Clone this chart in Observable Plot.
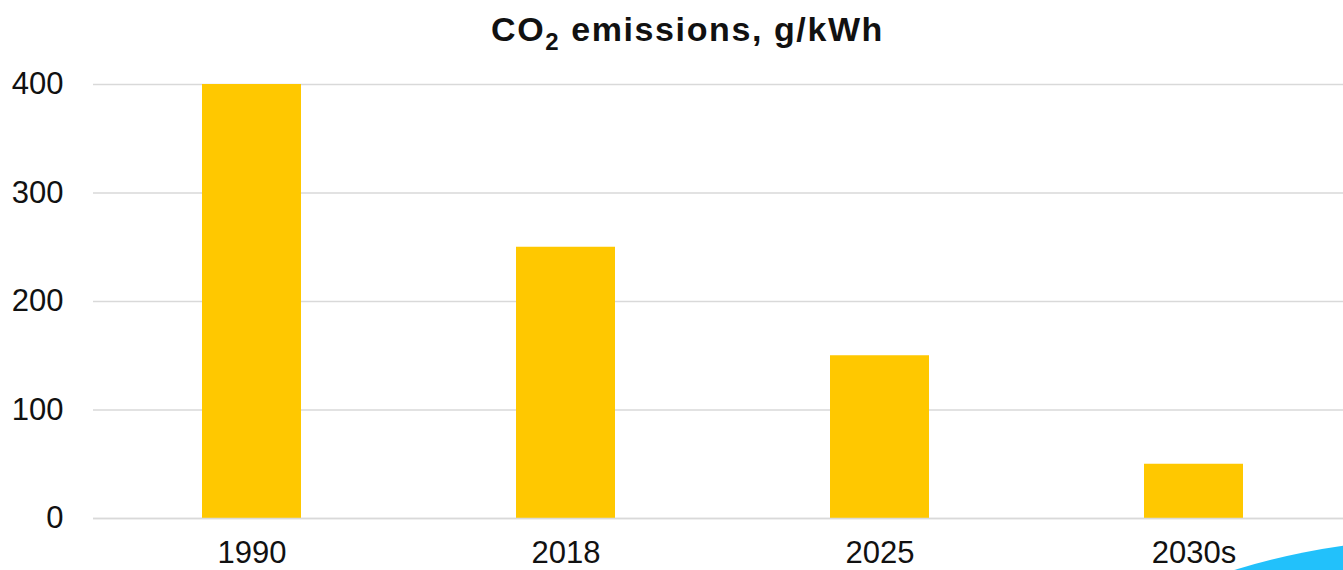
<!DOCTYPE html>
<html>
<head>
<meta charset="utf-8">
<script src="https://cdn.jsdelivr.net/npm/d3@7"></script>
<script src="https://cdn.jsdelivr.net/npm/@observablehq/plot@0.6"></script>
<style>
  html, body { margin: 0; padding: 0; background: #fff; }
  body { width: 1343px; height: 570px; overflow: hidden; position: relative; font-family: "Liberation Sans", Arial, sans-serif; }
  #title { box-sizing: border-box; width: 1343px; height: 58px; padding-top: 10px; padding-left: 32px; line-height: 38px; text-align: center; font-weight: bold; font-size: 34px; letter-spacing: 1.6px; color: #111; white-space: nowrap; }
  #title .sub { font-size: 24px; vertical-align: -9px; line-height: 0; }
  #deco { position: absolute; left: 740px; top: 539px; width: 1400px; height: 1400px; border-radius: 50%; background: #22c1fb; }
</style>
</head>
<body>
<div id="title">CO<span class="sub">2</span> emissions, g/kWh</div>
<div id="chart"></div>
<div id="deco"></div>
<script>
const categories = ["1990", "2018", "2025", "2030s"];
const emissions = [400, 250, 150, 50];
const yTicks = [0, 100, 200, 300, 400];

const data = categories.map((c, i) => ({category: c, value: emissions[i]}));

const chart = Plot.plot({
  width: 1343,
  height: 512,
  marginLeft: 93,
  marginRight: 0,
  marginTop: 26,
  marginBottom: 52,
  style: {fontFamily: "Liberation Sans, Arial, sans-serif", fontSize: "31px", color: "#111", background: "transparent", overflow: "visible"},
  x: {domain: categories, range: [93, 1351], paddingInner: 0.685, paddingOuter: 0.3425, align: 0.5},
  y: {domain: [0, 400]},
  marks: [
    Plot.ruleY(yTicks, {stroke: "#d9d9d9", strokeWidth: 1.6}),
    Plot.barY(data, {x: "category", y: "value", fill: "#ffc800"}),
    Plot.ruleY([0], {stroke: "#d9d9d9", strokeWidth: 1.6}),
    Plot.axisY(yTicks, {tickSize: 0, tickPadding: 30, fontSize: 31, fill: "#111", label: null}),
    Plot.axisX({tickSize: 0, tickPadding: 22, fontSize: 31, fill: "#111", label: null})
  ]
});
document.getElementById("chart").appendChild(chart);
</script>
</body>
</html>
